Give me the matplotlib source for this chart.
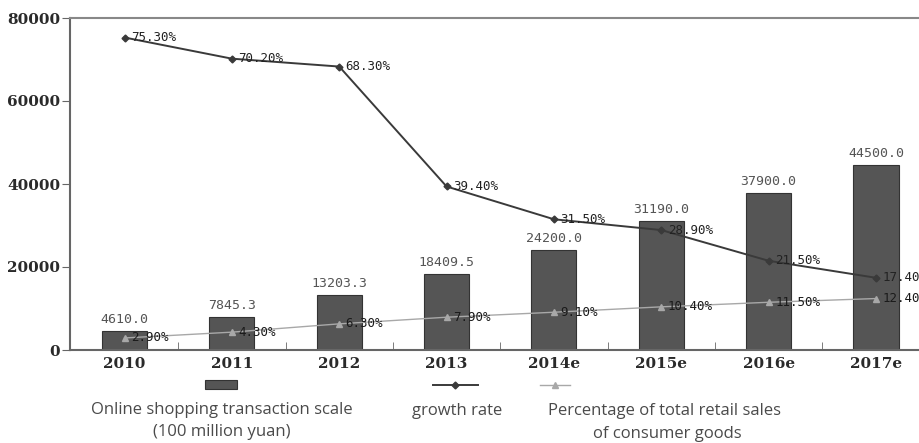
import numpy as np
import matplotlib.pyplot as plt
from matplotlib.patches import Rectangle
from matplotlib.lines import Line2D

years = ['2010', '2011', '2012', '2013', '2014e', '2015e', '2016e', '2017e']
scale = [4610.0, 7845.3, 13203.3, 18409.5, 24200.0, 31190.0, 37900.0, 44500.0]
growth = [75.3, 70.2, 68.3, 39.4, 31.5, 28.9, 21.5, 17.4]
share = [2.9, 4.3, 6.3, 7.9, 9.1, 10.4, 11.5, 12.4]

BAR = '#555555'
DARK = '#3a3a3a'
LIGHT = '#a8a8a8'
TXT = '#555555'
MONO = 'DejaVu Sans Mono'

fig = plt.figure(figsize=(9.2, 4.43), dpi=100)
ax = fig.add_axes([70 / 920, 93 / 443, 850 / 920, 332 / 443])
x = np.arange(len(years))

ax.bar(x, scale, width=0.42, color=BAR, edgecolor='#333333', linewidth=0.8, zorder=2)
for xi, v in zip(x, scale):
    ax.text(xi, v + 1200, f'{v:.1f}', ha='center', va='bottom', fontsize=9.5,
            family=MONO, color=TXT)

# percentage lines share the left scale (1% = 1000)
g = np.array(growth) * 1000
s = np.array(share) * 1000
ax.plot(x, g, color=DARK, lw=1.4, marker='D', ms=3.5, zorder=4)
ax.plot(x, s, color=LIGHT, lw=1.0, marker='^', ms=4, zorder=3)
for xi, v, gv in zip(x, growth, g):
    ax.text(xi + 0.06, gv, f'{v:.2f}%', ha='left', va='center', fontsize=9,
            family=MONO, color='#222222', zorder=5)
for xi, v, sv in zip(x, share, s):
    ax.text(xi + 0.06, sv, f'{v:.2f}%', ha='left', va='center', fontsize=9,
            family=MONO, color='#1a1a1a', zorder=5)

ax.set_xlim(-0.508, 7.41)
ax.set_ylim(0, 80000)
ax.set_yticks([0, 20000, 40000, 60000, 80000])
ax.set_yticklabels(['0', '20000', '40000', '60000', '80000'])
ax.set_xticks(x)
ax.set_xticklabels(years)
ax.set_xticks(x[:-1] + 0.5, minor=True)
ax.tick_params(axis='x', which='major', length=0, pad=5)
ax.tick_params(axis='x', which='minor', direction='in', length=6, color='#666666')
ax.tick_params(axis='y', direction='out', length=6, color='#666666', pad=1)
for lab in ax.get_xticklabels() + ax.get_yticklabels():
    lab.set_family('DejaVu Serif')
    lab.set_fontsize(11)
    lab.set_fontweight('bold')
    lab.set_color('#2a2a2a')

for side in ['left', 'bottom']:
    ax.spines[side].set_color('#666666')
    ax.spines[side].set_linewidth(1.5)
ax.spines['top'].set_color('#888888')
ax.spines['top'].set_linewidth(1.5)
ax.spines['right'].set_visible(False)

# legend drawn below the axes, keys above their labels
H = 443.0
def fy(py):
    return 1 - py / H

fig.add_artist(Rectangle((205 / 920, fy(389)), 32 / 920, 9 / H, facecolor=BAR,
                         edgecolor='#333333', lw=0.8, transform=fig.transFigure))
fig.add_artist(Line2D([433 / 920, 478 / 920], [fy(385)] * 2, color=DARK, lw=1.4,
                      transform=fig.transFigure))
fig.add_artist(Line2D([455 / 920], [fy(385)], color=DARK, marker='D', ms=3.5,
                      transform=fig.transFigure))
fig.add_artist(Line2D([540 / 920, 570 / 920], [fy(385)] * 2, color=LIGHT, lw=1.0,
                      transform=fig.transFigure))
fig.add_artist(Line2D([555 / 920], [fy(385)], color=LIGHT, marker='^', ms=4,
                      transform=fig.transFigure))

kw = dict(ha='center', va='center', fontsize=12, family='Open Sans', color='#4a4a4a')
fig.text(222 / 920, fy(410), 'Online shopping transaction scale', **kw)
fig.text(222 / 920, fy(432), '(100 million yuan)', **kw)
fig.text(457 / 920, fy(411), 'growth rate', **kw)
fig.text(664 / 920, fy(411), 'Percentage of total retail sales', **kw)
fig.text(667 / 920, fy(434), 'of consumer goods', **kw)

fig.savefig('out.png', dpi=100, facecolor='white')
